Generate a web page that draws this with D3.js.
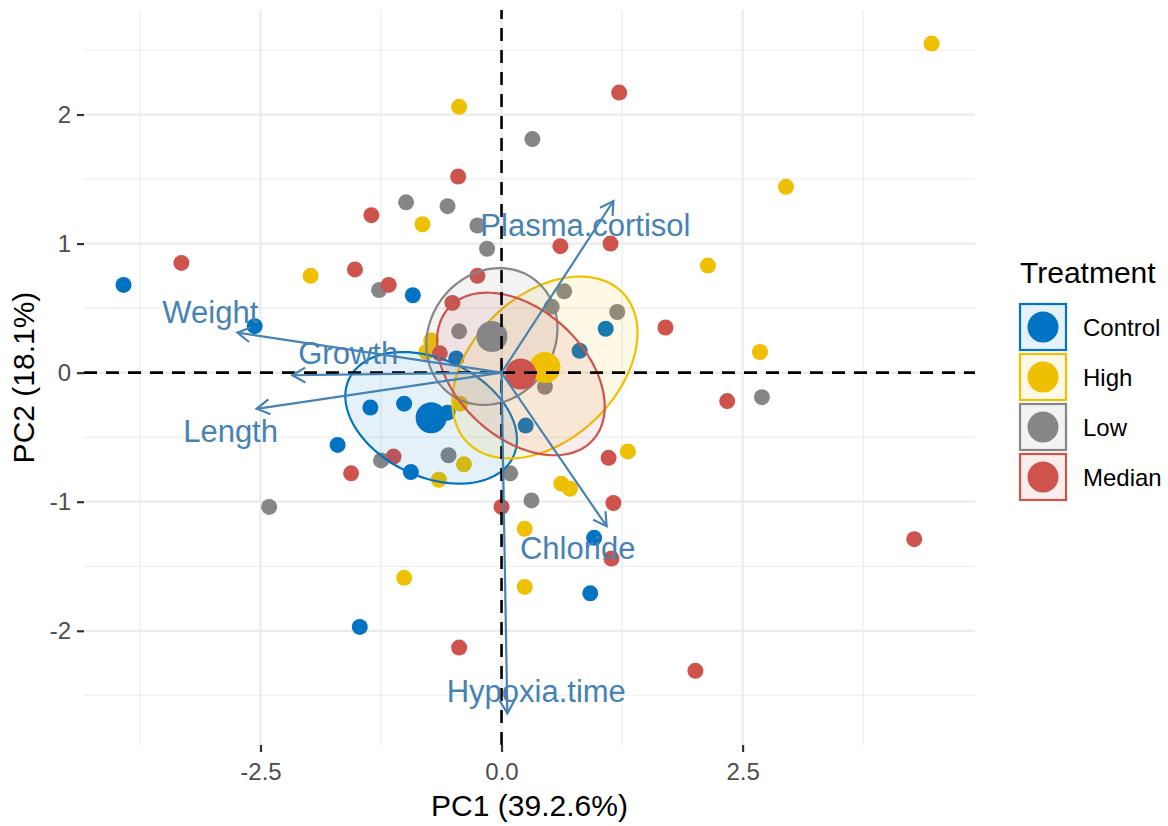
<!DOCTYPE html>
<html><head><meta charset="utf-8">
<script src="https://cdn.jsdelivr.net/npm/d3@7"></script>
<style>body{margin:0;background:#fff}svg{display:block}</style>
</head><body>
<svg id="chart" width="1168" height="826"></svg>
<script>
// ---------- data ----------
const groups = ["Control", "High", "Low", "Median"];
const groupColors = ["#0073C2", "#EFC000", "#868686", "#CD534C"];

const controlPoints = [[-3.92,0.68],[-2.56,0.36],[-0.92,0.60],[-0.47,0.11],[-1.36,-0.27],[-1.01,-0.24],
  [-0.56,-0.31],[-1.70,-0.56],[-0.94,-0.77],[0.25,-0.41],[0.81,0.17],[1.08,0.34],[0.96,-1.28],[0.92,-1.71],[-1.47,-1.97]];
const highPoints = [[4.46,2.55],[-0.44,2.06],[2.95,1.44],[-0.82,1.15],[-1.98,0.75],[2.14,0.83],[2.68,0.16],
  [-0.73,0.25],[-0.78,0.16],[-0.43,-0.24],[1.31,-0.61],[0.62,-0.86],[0.71,-0.90],[0.24,-1.21],[0.24,-1.66],
  [-1.01,-1.59],[-0.39,-0.71],[-0.65,-0.83]];
const lowPoints = [[0.32,1.81],[-0.99,1.32],[-0.56,1.29],[-0.25,1.14],[-0.15,0.96],[-1.27,0.64],[-0.44,0.32],
  [0.65,0.63],[0.52,0.51],[1.20,0.47],[0.45,-0.11],[2.70,-0.19],[0.09,-0.78],[0.31,-0.99],[-0.55,-0.64],
  [-1.25,-0.68],[-2.41,-1.04]];
const medianPoints = [[1.22,2.17],[-0.45,1.52],[-1.35,1.22],[-3.32,0.85],[-1.52,0.80],[-1.17,0.68],[0.61,0.98],
  [1.13,1.00],[-0.25,0.75],[-0.51,0.54],[-0.64,0.15],[1.70,0.35],[2.34,-0.22],[1.11,-0.66],[1.16,-1.01],
  [0.00,-1.04],[1.14,-1.44],[4.28,-1.29],[2.01,-2.31],[-0.44,-2.13],[-1.56,-0.78],[-1.12,-0.65]];
const groupPoints = [controlPoints, highPoints, lowPoints, medianPoints];

// group centroids (PC1, PC2)
const centroids = [[-0.73,-0.35],[0.45,0.04],[-0.10,0.28],[0.20,-0.01]];
// confidence ellipse extents: half-width on PC1, half-height on PC2, correlation
const ellipseRx = [0.89, 0.96, 0.68, 0.87];
const ellipseRy = [0.51, 0.705, 0.53, 0.63];
const ellipseRho = [-0.33, 0.38, 0.12, -0.40];

// variable loadings (arrow tips) and label anchors
const variables = ["Weight", "Growth", "Length", "Plasma.cortisol", "Chloride", "Hypoxia.time"];
const loadingPC1 = [-2.74, -2.17, -2.54, 1.16, 1.09, 0.06];
const loadingPC2 = [0.31, -0.02, -0.28, 1.33, -1.19, -2.64];
const labelPC1 = [-3.02, -1.59, -2.81, 0.87, 0.79, 0.36];
const labelPC2 = [0.47, 0.155, -0.45, 1.147, -1.357, -2.469];

const xTicks = [-2.5, 0, 2.5];
const xTickLabels = ["-2.5", "0.0", "2.5"];
const xMinor = [-3.75, -1.25, 1.25, 3.75];
const yTicks = [-2, -1, 0, 1, 2];
const yTickLabels = ["-2", "-1", "0", "1", "2"];
const yMinor = [-2.5, -1.5, -0.5, 0.5, 1.5, 2.5];

const xTitle = "PC1 (39.2.6%)";
const yTitle = "PC2 (18.1%)";
const legendTitle = "Treatment";

// ---------- drawing ----------
const FONT = "'Liberation Sans', Arial, Helvetica, sans-serif";
const svg = d3.select("#chart");
const P = {l: 84, r: 975, t: 10, b: 745};
const x = d3.scaleLinear().domain([-4.33, 4.91]).range([P.l, P.r]);
const y = d3.scaleLinear().domain([-2.885, 2.81]).range([P.b, P.t]);

const grid = svg.append("g");
grid.selectAll(".xmin").data(xMinor).join("line")
  .attr("x1", d => x(d)).attr("x2", d => x(d)).attr("y1", P.t).attr("y2", P.b)
  .attr("stroke", "#EBEBEB").attr("stroke-width", 1.1);
grid.selectAll(".ymin").data(yMinor).join("line")
  .attr("y1", d => y(d)).attr("y2", d => y(d)).attr("x1", P.l).attr("x2", P.r)
  .attr("stroke", "#EBEBEB").attr("stroke-width", 1.1);
grid.selectAll(".xmaj").data(xTicks).join("line")
  .attr("x1", d => x(d)).attr("x2", d => x(d)).attr("y1", P.t).attr("y2", P.b)
  .attr("stroke", "#EBEBEB").attr("stroke-width", 2.2);
grid.selectAll(".ymaj").data(yTicks).join("line")
  .attr("y1", d => y(d)).attr("y2", d => y(d)).attr("x1", P.l).attr("x2", P.r)
  .attr("stroke", "#EBEBEB").attr("stroke-width", 2.2);

// axes
const xAxis = svg.append("g").attr("transform", `translate(0,${P.b})`)
  .call(d3.axisBottom(x).tickValues(xTicks).tickFormat((d, i) => xTickLabels[i]).tickSize(7).tickPadding(11));
const yAxis = svg.append("g").attr("transform", `translate(${P.l},0)`)
  .call(d3.axisLeft(y).tickValues(yTicks).tickFormat((d, i) => yTickLabels[i]).tickSize(7).tickPadding(6));
[xAxis, yAxis].forEach(a => {
  a.select(".domain").remove();
  a.selectAll(".tick line").attr("stroke", "#333333").attr("stroke-width", 2.2);
  a.selectAll(".tick text").attr("fill", "#4D4D4D").style("font-family", FONT).style("font-size", "24px");
});

// individual points
const ptsG = svg.append("g");
groupPoints.forEach((pts, gi) => {
  ptsG.selectAll(null).data(pts).join("circle")
    .attr("cx", d => x(d[0])).attr("cy", d => y(d[1])).attr("r", 8)
    .attr("fill", groupColors[gi]);
});

// ellipses
const ellG = svg.append("g");
const line = d3.line().curve(d3.curveLinearClosed);
groups.forEach((g, gi) => {
  const [cx, cy] = centroids[gi];
  const rx = ellipseRx[gi], ry = ellipseRy[gi], rho = ellipseRho[gi];
  const s = Math.sqrt(1 - rho * rho);
  const pts = d3.range(0, 120).map(k => {
    const t = k / 120 * 2 * Math.PI;
    return [x(cx + rx * Math.cos(t)), y(cy + ry * (rho * Math.cos(t) + s * Math.sin(t)))];
  });
  ellG.append("path").attr("d", line(pts))
    .attr("fill", groupColors[gi]).attr("fill-opacity", 0.1)
    .attr("stroke", groupColors[gi]).attr("stroke-width", 2.2);
});

// centroids
svg.append("g").selectAll("circle").data(centroids).join("circle")
  .attr("cx", d => x(d[0])).attr("cy", d => y(d[1])).attr("r", 15.5)
  .attr("fill", (d, i) => groupColors[i]);

// reference dashed lines
svg.append("line").attr("x1", P.l).attr("x2", P.r).attr("y1", y(0)).attr("y2", y(0))
  .attr("stroke", "#000").attr("stroke-width", 2.6).attr("stroke-dasharray", "13,9");
svg.append("line").attr("x1", x(0)).attr("x2", x(0)).attr("y1", P.b).attr("y2", P.t)
  .attr("stroke", "#000").attr("stroke-width", 2.6).attr("stroke-dasharray", "13,9");

// variable arrows
const arrG = svg.append("g").attr("stroke", "steelblue").attr("stroke-width", 2.2).attr("fill", "none");
variables.forEach((v, i) => {
  const x0 = x(0), y0 = y(0), x1 = x(loadingPC1[i]), y1 = y(loadingPC2[i]);
  arrG.append("line").attr("x1", x0).attr("y1", y0).attr("x2", x1).attr("y2", y1);
  const ang = Math.atan2(y1 - y0, x1 - x0), L = 15, w = Math.PI / 6;
  const p1 = [x1 - L * Math.cos(ang - w), y1 - L * Math.sin(ang - w)];
  const p2 = [x1 - L * Math.cos(ang + w), y1 - L * Math.sin(ang + w)];
  arrG.append("path").attr("d", `M${p1[0]},${p1[1]}L${x1},${y1}L${p2[0]},${p2[1]}`)
    .attr("stroke-linejoin", "miter");
});
svg.append("g").selectAll("text").data(variables).join("text")
  .attr("x", (d, i) => x(labelPC1[i])).attr("y", (d, i) => y(labelPC2[i]))
  .attr("dy", "0.36em").attr("text-anchor", "middle")
  .attr("fill", "steelblue").style("font-family", FONT).style("font-size", "31px")
  .text(d => d);

// axis titles
svg.append("text").attr("x", (P.l + P.r) / 2).attr("y", 816).attr("text-anchor", "middle")
  .style("font-family", FONT).style("font-size", "30px").attr("fill", "#000").text(xTitle);
svg.append("text").attr("transform", `translate(34,${(P.t + P.b) / 2}) rotate(-90)`).attr("text-anchor", "middle")
  .style("font-family", FONT).style("font-size", "30px").attr("fill", "#000").text(yTitle);

// legend
const lg = svg.append("g");
lg.append("text").attr("x", 1020).attr("y", 283).style("font-family", FONT).style("font-size", "30px")
  .attr("fill", "#000").text(legendTitle);
groups.forEach((g, i) => {
  const top = 304 + i * 50;
  lg.append("rect").attr("x", 1020).attr("y", top).attr("width", 46).attr("height", 46)
    .attr("fill", d3.interpolateRgb("#ffffff", groupColors[i])(0.1))
    .attr("stroke", groupColors[i]).attr("stroke-width", 2.2);
  lg.append("circle").attr("cx", 1043).attr("cy", top + 23).attr("r", 15.5).attr("fill", groupColors[i]);
  lg.append("text").attr("x", 1083).attr("y", top + 23).attr("dy", "0.36em")
    .style("font-family", FONT).style("font-size", "24px").attr("fill", "#000").text(g);
});
</script>
</body></html>
